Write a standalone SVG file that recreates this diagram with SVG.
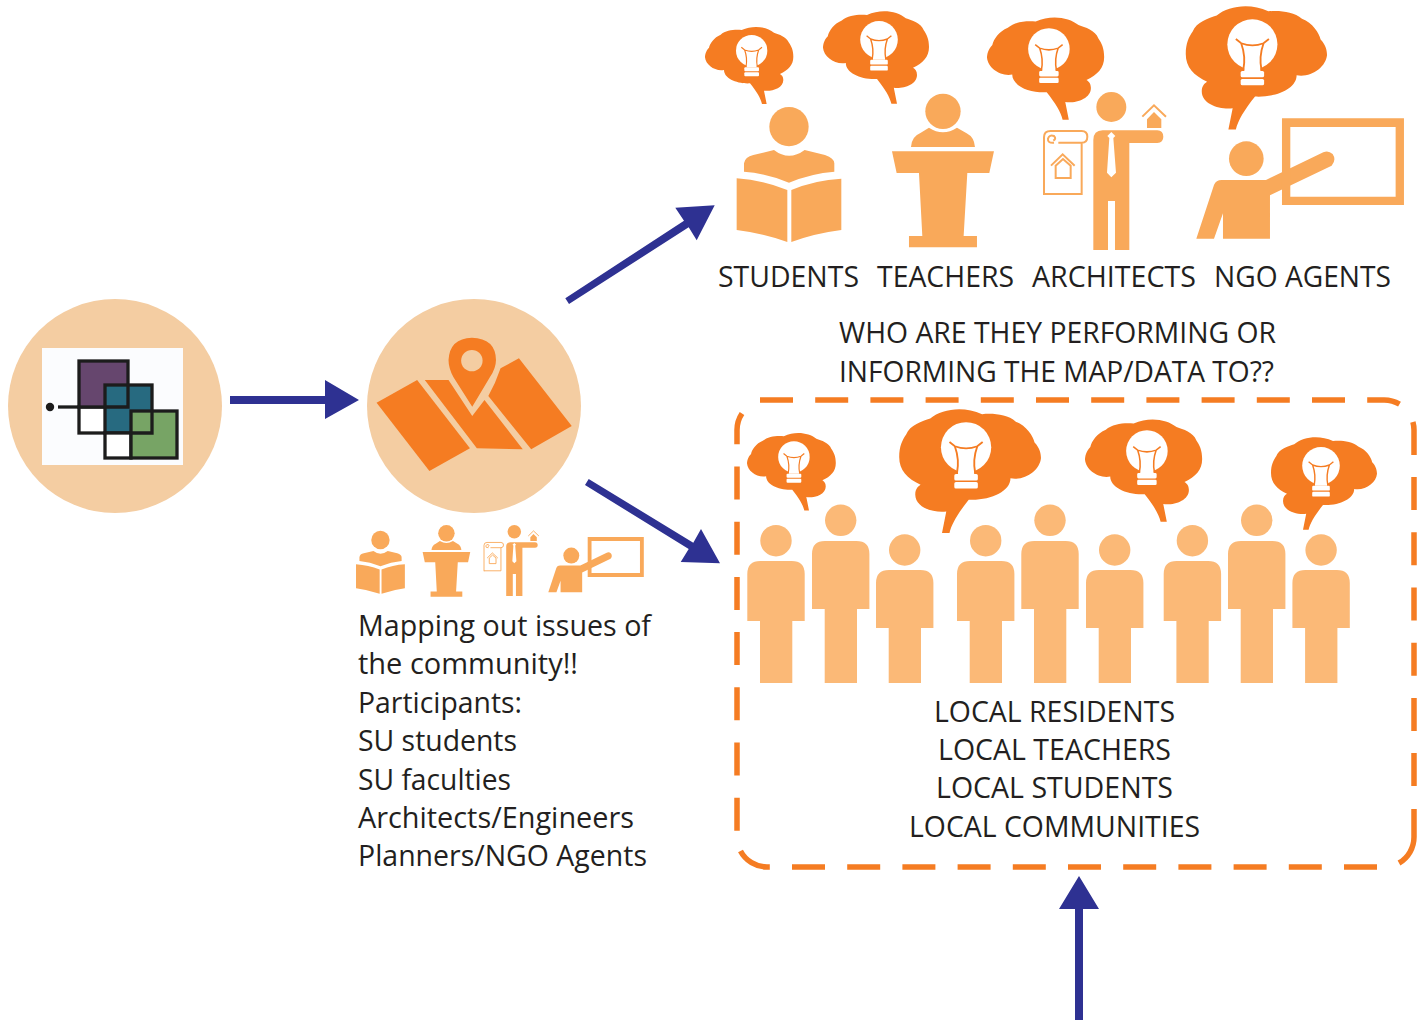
<svg xmlns="http://www.w3.org/2000/svg" width="1426" height="1022" viewBox="0 0 1426 1022">
<style>
text{font-family:"Open Sans","Noto Sans","Liberation Sans",sans-serif;font-size:29px;fill:#231F20}
.disc{fill:#F4CDA2}
.arrow{fill:#2E3192}
.ic{fill:#F9A95A}
.icl{fill:none;stroke:#F9A95A;stroke-width:6}
.pp{fill:#FBB977}
.br{fill:#F57C22}
.lg{stroke:#1C1C1C;stroke-width:3.3}
.dash{fill:none;stroke:#F57C22;stroke-width:5.5}
.dd{stroke-dasharray:33 22.2}
</style>
<defs>
<g id="brain">
<path class="br" d="M200,312L192,272C215,275 250,265 250,240C250,230 245,225 240,222C265,210 280,195 280,170C280,150 274,138 267,128C260,110 237,103 222,98C200,80 160,74 125,90C105,88 78,90 62,104C42,112 30,130 27,143C17,153 15,165 15,172C17,195 45,215 72,210C72,235 110,252 150,250C170,275 182,295 186,312Z"/>
<circle cx="155" cy="152" r="47" fill="#fff"/>
<path d="M136,150H174L170,202H140Z" fill="#fff"/>
<path d="M124,142L134,150Q155,158 176,150L186,142M134,150Q143,175 138,200M176,150Q167,175 172,200" fill="none" stroke="#F57C22" stroke-width="3.5"/>
<rect x="133" y="202" width="44" height="12" rx="3" fill="#fff"/>
<rect x="133" y="217" width="44" height="12" rx="3" fill="#fff"/>
</g>
<g id="student" class="ic">
<circle cx="267" cy="380" r="59"/>
<path d="M132,515V490Q135,470 160,465L222,450Q267,485 314,450L375,465Q403,475 403,490V515Q335,520 267,548Q200,520 132,515Z"/>
<path d="M110,535Q190,540 262,570V726Q190,700 110,690Z"/>
<path d="M274,570Q345,540 424,536V690Q345,700 274,726Z"/>
</g>
<g id="teacher" class="ic">
<circle cx="729" cy="334" r="53"/>
<path d="M633,441Q635,410 660,400L687,383Q729,410 771,383L800,400Q823,412 825,441Z"/>
<path d="M576,454H882L868,519H802L791,708H831V742H627V708H667L657,519H590Z"/>
</g>
<g id="architect">
<circle class="ic" cx="244" cy="321" r="45"/>
<path class="ic" d="M190,750V420Q190,392 218,391H382Q400,392 400,410Q400,428 382,429H298V750H255V603H234V750Z"/>
<path fill="#fff" d="M244,396L256,408L250,414L258,518L244,532L231,518L238,414L232,408Z"/>
<path class="ic" d="M351,384V358L372,336L394,358V384Z"/>
<path class="icl" d="M337,350L372,316L408,350"/>
<path class="icl" stroke-width="7" d="M42,585V412Q42,393 62,393H155Q172,393 172,410Q172,428 155,428V582H42M155,428H85M72,428Q52,430 54,416Q58,403 72,408Q80,416 70,422"/>
<path class="icl" d="M63,497L98,463L134,497M77,497V534H122V497L99,477Z"/>
</g>
<g id="trainer" class="ic">
<circle cx="649" cy="476" r="52"/>
<path d="M499,716L552,555Q558,540 575,540H708L880,457Q895,450 908,462Q920,480 905,497L720,586V716H579V640L552,716Z"/>
<path d="M756,355H1122V615H756ZM781,381V590H1097V381Z" fill-rule="evenodd"/>
</g>
<g id="pa" class="pp"><circle cx="28.7" cy="540.7" r="15.7"/><path d="M0,621V574Q0,561 13,561H44.4Q57.4,561 57.4,574V621H45V683H12.7V621Z"/></g>
<g id="pb" class="pp"><circle cx="28.7" cy="520.3" r="15.7"/><path d="M0,609V554Q0,541 13,541H44.4Q57.4,541 57.4,554V609H45V683H12.7V609Z"/></g>
<g id="pc" class="pp"><circle cx="28.7" cy="550" r="15.7"/><path d="M0,628V583Q0,570 13,570H44.4Q57.4,570 57.4,583V628H45V683H12.7V628Z"/></g>
</defs>

<g id="node-source">
<circle class="disc" cx="115" cy="406" r="107"/>
<rect x="42" y="348" width="141" height="117" fill="#FBFCFE"/>
<circle cx="50" cy="407" r="4.200" fill="#1C1C1C"/>
<path class="lg" d="M58,407H79" fill="none"/>
<rect class="lg" x="79" y="407" width="49" height="26" fill="#fff"/>
<rect class="lg" x="79" y="361" width="49" height="46" fill="#66466E"/>
<rect class="lg" x="105" y="385" width="47" height="48" fill="#276A80"/>
<path class="lg" d="M105,407H128V385" fill="none"/>
<rect class="lg" x="105" y="433" width="26" height="25" fill="#fff"/>
<rect class="lg" x="131" y="411" width="46" height="47" fill="#77A465"/>
<path class="lg" d="M131,433H152V411" fill="none"/>
</g>

<g id="node-map">
<circle class="disc" cx="474" cy="406" r="107"/>
<g transform="translate(0 290) scale(.3827 .3333)" class="br">
<path d="M984,338L1090,270L1228,475L1122,543Z"/>
<path d="M1110,270H1172L1234,378L1266,330L1366,478L1246,475Z"/>
<path d="M1308,235L1356,205L1494,408L1388,478L1276,318Q1295,280 1308,235Z"/>
<path d="M1234,350L1185,262Q1172,235 1172,210Q1175,145 1233,143Q1295,145 1296,210Q1296,235 1280,262Z"/>
<ellipse cx="1233" cy="212" rx="28" ry="32" fill="#F4CDA2"/>
</g>
</g>

<g id="node-participants">
<use href="#student" transform="translate(338.9 480.9) scale(.1556)"/>
<use href="#teacher" transform="translate(333 481.4) scale(.1556)"/>
<use href="#architect" transform="translate(477.7 483.5) scale(.15)"/>
<use href="#trainer" transform="translate(471.8 482.6) scale(.1533)"/>
<text x="358" y="636" textLength="293" lengthAdjust="spacingAndGlyphs">Mapping out issues of</text>
<text x="358" y="674" textLength="220" lengthAdjust="spacingAndGlyphs">the community!!</text>
<text x="358" y="713" textLength="164" lengthAdjust="spacingAndGlyphs">Participants:</text>
<text x="358" y="751" textLength="159" lengthAdjust="spacingAndGlyphs">SU students</text>
<text x="358" y="790" textLength="153" lengthAdjust="spacingAndGlyphs">SU faculties</text>
<text x="358" y="828" textLength="276" lengthAdjust="spacingAndGlyphs">Architects/Engineers</text>
<text x="358" y="866" textLength="289" lengthAdjust="spacingAndGlyphs">Planners/NGO Agents</text>
</g>

<g id="node-students">
<use href="#brain" transform="translate(700 0) scale(.3333)"/>
<use href="#student" transform="translate(700 0) scale(.3333)"/>
<text x="718" y="287" textLength="141" lengthAdjust="spacingAndGlyphs">STUDENTS</text>
</g>
<g id="node-teachers">
<use href="#brain" transform="translate(817 -21) scale(.4)"/>
<use href="#teacher" transform="translate(700 0) scale(.3333)"/>
<text x="877" y="287" textLength="137" lengthAdjust="spacingAndGlyphs">TEACHERS</text>
</g>
<g id="node-architects">
<use href="#brain" transform="translate(980.4 -18.2) scale(.442)"/>
<use href="#architect" transform="translate(1030 0) scale(.3333)"/>
<text x="1032" y="287" textLength="164" lengthAdjust="spacingAndGlyphs">ARCHITECTS</text>
</g>
<g id="node-ngo">
<use href="#brain" transform="translate(1335 -36.7) scale(-.533 .533)"/>
<use href="#trainer" transform="translate(1030 0) scale(.3333)"/>
<text x="1214" y="287" textLength="177" lengthAdjust="spacingAndGlyphs">NGO AGENTS</text>
</g>

<g id="node-question">
<text x="839" y="343" textLength="437" lengthAdjust="spacingAndGlyphs">WHO ARE THEY PERFORMING OR</text>
<text x="839" y="382" textLength="435" lengthAdjust="spacingAndGlyphs">INFORMING THE MAP/DATA TO??</text>
</g>

<g id="node-local">
<path class="dash dd" d="M760,400H1384A30,30 0 0 1 1400,404.500"/>
<path class="dash dd" d="M1412.900,422A30,30 0 0 1 1414,430V786"/>
<path class="dash" d="M1414,809V837A30,30 0 0 1 1399,863"/>
<path class="dash dd" d="M1377,867H769"/>
<path class="dash" d="M769,867H767A30,30 0 0 1 740.500,851"/>
<path class="dash dd" d="M737,830.700V430A30,30 0 0 1 742,413.400"/>
<use href="#brain" transform="translate(742 406) scale(.335)"/>
<use href="#brain" transform="translate(1049 366) scale(-.535 .535)"/>
<use href="#brain" transform="translate(1078.4 383.8) scale(.442)"/>
<use href="#brain" transform="translate(1383 405) scale(-.4 .4)"/>
<use href="#pa" x="747.3"/>
<use href="#pb" x="812"/>
<use href="#pc" x="876"/>
<use href="#pa" x="957"/>
<use href="#pb" x="1021.3"/>
<use href="#pc" x="1086"/>
<use href="#pa" x="1163.700"/>
<use href="#pb" x="1228"/>
<use href="#pc" x="1292.400"/>
<text x="934" y="722" textLength="241" lengthAdjust="spacingAndGlyphs">LOCAL RESIDENTS</text>
<text x="938" y="760" textLength="233" lengthAdjust="spacingAndGlyphs">LOCAL TEACHERS</text>
<text x="936" y="798" textLength="237" lengthAdjust="spacingAndGlyphs">LOCAL STUDENTS</text>
<text x="909" y="837" textLength="291" lengthAdjust="spacingAndGlyphs">LOCAL COMMUNITIES</text>
</g>

<g id="connectors">
<path class="arrow" d="M230,396H325V380L359,400L325,419V404H230Z"/>
<path class="arrow" d="M565.300,298.300L684,220.700L675.300,207.700L714.700,205.300L696.700,240.300L688.700,227.300L569,304Z"/>
<path class="arrow" d="M588.700,479L693.300,542.700L701,529L720,563.300L680.700,562L688.700,549L585,485Z"/>
<path class="arrow" d="M1075,1020V909H1059L1079,876L1099,909H1083V1020Z"/>
</g>
</svg>
